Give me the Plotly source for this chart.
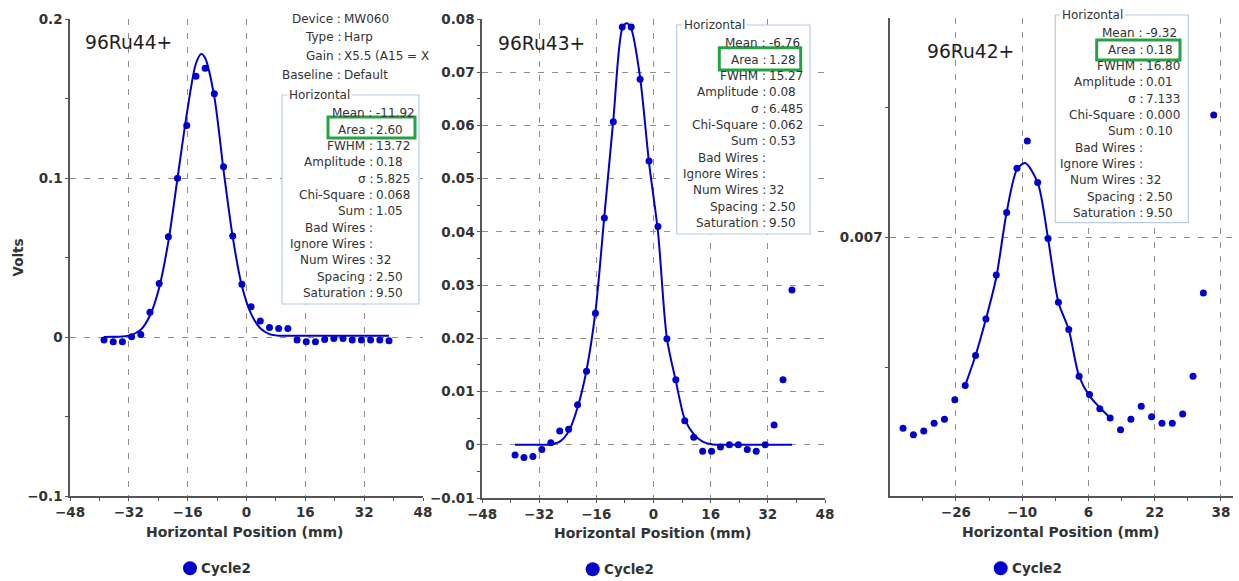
import plotly.graph_objects as go

W, H = 1239, 581

# ---------------- data ----------------
wire_pos = [-38.75, -36.25, -33.75, -31.25, -28.75, -26.25, -23.75, -21.25,
            -18.75, -16.25, -13.75, -11.25, -8.75, -6.25, -3.75, -1.25,
            1.25, 3.75, 6.25, 8.75, 11.25, 13.75, 16.25, 18.75,
            21.25, 23.75, 26.25, 28.75, 31.25, 33.75, 36.25, 38.75]

p1_y = [-0.0019, -0.0030, -0.0030, 0.0002, 0.0015, 0.0155, 0.0337, 0.0630,
        0.0998, 0.1330, 0.1640, 0.1690, 0.1530, 0.1070, 0.0635, 0.0331,
        0.0190, 0.0100, 0.0059, 0.0053, 0.0053, -0.0019, -0.0030, -0.0030,
        -0.0015, -0.0010, -0.0010, -0.0019, -0.0019, -0.0019, -0.0019, -0.0023]

p2_y = [-0.0019, -0.0024, -0.0022, -0.0009, 0.0004, 0.0026, 0.0029, 0.0075,
        0.0138, 0.0247, 0.0426, 0.0607, 0.0785, 0.0785, 0.0687, 0.0533,
        0.0410, 0.0199, 0.0122, 0.0045, 0.0014, -0.0012, -0.0012, -0.0004,
        0.0000, 0.0000, -0.0009, -0.0012, 0.0000, 0.0037, 0.0122, 0.0291]

p3_x = wire_pos[:31]
p3_y = [0.00553, 0.00548, 0.00551, 0.00557, 0.00560, 0.00575, 0.00586, 0.00609,
        0.00637, 0.00671, 0.00719, 0.00753, 0.00774, 0.00742, 0.00699, 0.00650,
        0.00629, 0.00593, 0.00579, 0.00568, 0.00561, 0.00552, 0.00560, 0.00570,
        0.00562, 0.00557, 0.00557, 0.00564, 0.00593, 0.00657, 0.00794]

# fitted curves
fit1_x = [-38.75, -36.25, -33.75, -31.25, -28.75, -26.25, -23.75, -21.25, -18.75,
          -16.25, -13.75, -12.3, -11.25, -8.75, -6.25, -3.75, -1.25, 1.25, 3.75,
          6.25, 8.75, 11.25, 13.75, 16.25, 18.75, 21.25, 23.75, 26.25, 28.75,
          31.25, 33.75, 36.25, 38.75]
fit1_y = [0.0, 0.0001, 0.0003, 0.0013, 0.0045, 0.0135, 0.0310, 0.0600, 0.1000,
          0.1400, 0.1720, 0.1780, 0.1755, 0.1510, 0.1050, 0.0630, 0.0320, 0.0145,
          0.0055, 0.0018, 0.0008, 0.0008, 0.0008, 0.0008, 0.0008, 0.0008, 0.0008,
          0.0008, 0.0008, 0.0008, 0.0008, 0.0008, 0.0008]

fit2_x = [-38.75, -36.25, -33.75, -31.25, -28.75, -26.25, -23.75, -21.25, -18.75,
          -16.25, -13.75, -11.25, -8.75, -7.5, -6.25, -3.75, -1.25, 1.25, 3.75,
          6.25, 8.75, 11.25, 13.75, 16.25, 18.75, 21.25, 23.75, 26.25, 28.75,
          31.25, 33.75, 36.25, 38.75]
fit2_y = [0.0, 0.0, 0.0, 0.0, 0.0001, 0.0006, 0.0025, 0.0070, 0.0140,
          0.0250, 0.0430, 0.0610, 0.0782, 0.0792, 0.0782, 0.0690, 0.0530, 0.0400,
          0.0200, 0.0120, 0.0048, 0.0020, 0.0006, 0.0001, 0.0, 0.0, 0.0, 0.0,
          0.0, 0.0, 0.0, 0.0, 0.0]

fit3_x = [-23.75, -21.25, -18.75, -16.25, -13.75, -11.25, -9.3, -6.25, -3.75,
          -1.25, 1.25, 3.75, 6.25, 8.75, 11.25]
fit3_y = [0.00586, 0.00609, 0.00637, 0.00669, 0.00719, 0.00752, 0.00757, 0.00742,
          0.00699, 0.00650, 0.00629, 0.00593, 0.00578, 0.00569, 0.00561]

panel_titles = ["96Ru44+", "96Ru43+", "96Ru42+"]
series_name = "Cycle2"

header_labels = ["Device", "Type", "Gain", "Baseline"]
header_values = ["MW060", "Harp", "X5.5 (A15 = X", "Default"]

stat_labels = ["Mean", "Area", "FWHM", "Amplitude", "σ", "Chi-Square", "Sum",
               "Bad Wires", "Ignore Wires", "Num Wires", "Spacing", "Saturation"]
p1_stats = ["-11.92", "2.60", "13.72", "0.18", "5.825", "0.068", "1.05", "", "", "32", "2.50", "9.50"]
p2_stats = ["-6.76", "1.28", "15.27", "0.08", "6.485", "0.062", "0.53", "", "", "32", "2.50", "9.50"]
p3_stats = ["-9.32", "0.18", "16.80", "0.01", "7.133", "0.000", "0.10", "", "", "32", "2.50", "9.50"]

# ---------------- styling ----------------
BLUE = "#0000cc"
AXC = "#555555"
TXT = "#333333"
GRID = "#8f8f8f"
FONT = "DejaVu Sans"


def px(x):
    return x / W


def py(y):
    return 1 - y / H


fig = go.Figure()

datasets = [
    (wire_pos, p1_y, fit1_x, fit1_y, "x", "y"),
    (wire_pos, p2_y, fit2_x, fit2_y, "x2", "y2"),
    (p3_x, p3_y, fit3_x, fit3_y, "x3", "y3"),
]
for dx, dy, fx, fy, xa, ya in datasets:
    fig.add_trace(go.Scatter(x=fx, y=fy, mode="lines", xaxis=xa, yaxis=ya,
                             line=dict(color=BLUE, width=2, shape="spline", smoothing=0.8),
                             showlegend=False, hoverinfo="skip"))
    fig.add_trace(go.Scatter(x=dx, y=dy, mode="markers", xaxis=xa, yaxis=ya,
                             name=series_name,
                             marker=dict(color=BLUE, size=7, symbol="circle"),
                             showlegend=False))

tickfont = dict(family=FONT, size=13.5, color=TXT, weight="bold")


def xaxis(dom, rng, tick0, anchor):
    return dict(domain=[px(dom[0]), px(dom[1])], range=rng, anchor=anchor, automargin=False,
                tick0=tick0, dtick=16, showgrid=True, gridcolor=GRID, gridwidth=1,
                griddash="6px,8px", zeroline=False, showline=True, linecolor=AXC,
                linewidth=1.5, ticks="outside", ticklen=3, tickcolor=AXC, tickwidth=1.2,
                tickfont=tickfont, fixedrange=True,
                minor=dict(tick0=tick0, dtick=8, ticks="outside", ticklen=3,
                           tickcolor=AXC, tickwidth=1.2, showgrid=False))


def yaxis(dom, rng, tick0, dtick, mdtick, anchor):
    return dict(domain=[py(dom[1]), py(dom[0])], range=rng, anchor=anchor, automargin=False,
                tick0=tick0, dtick=dtick, showgrid=True, gridcolor=GRID, gridwidth=1,
                griddash="6px,8px", zeroline=False, showline=True, linecolor=AXC,
                linewidth=1.5, ticks="outside", ticklen=3, tickcolor=AXC, tickwidth=1.2,
                tickfont=tickfont, fixedrange=True,
                minor=dict(tick0=tick0, dtick=mdtick, ticks="outside", ticklen=3,
                           tickcolor=AXC, tickwidth=1.2, showgrid=False))


def inside_ticks(base, overlay):
    d = dict(base)
    d.update(overlaying=overlay, ticks="inside", showticklabels=False, showgrid=False,
             showline=False)
    d["minor"] = dict(base["minor"], ticks="inside")
    return d


xa1 = xaxis((70, 423), [-48, 48], 0, "y")
ya1 = yaxis((19, 496), [-0.1, 0.2], 0, 0.1, 0.05, "x")
xa2 = xaxis((482, 825), [-48, 48], 0, "y2")
ya2 = yaxis((19, 498), [-0.01, 0.08], 0, 0.01, 0.005, "x2")
xa3 = xaxis((890, 1233), [-41.9, 40.9], -26, "y3")
ya3 = yaxis((18, 496), [0.00501, 0.008685], 0.007, 0.002, 0.001, "x3")

fig.update_layout(
    template="none",
    width=W, height=H, margin=dict(l=0, r=0, t=0, b=0, pad=0, autoexpand=False),
    paper_bgcolor="white", plot_bgcolor="white", showlegend=False,
    xaxis=xa1, yaxis=ya1, xaxis2=xa2, yaxis2=ya2, xaxis3=xa3, yaxis3=ya3,
    xaxis4=inside_ticks(xa1, "x"), yaxis4=inside_ticks(ya1, "y"),
    xaxis5=inside_ticks(xa2, "x2"), yaxis5=inside_ticks(ya2, "y2"),
    xaxis6=inside_ticks(xa3, "x3"), yaxis6=inside_ticks(ya3, "y3"),
)

shapes = []
annotations = []


def ann(x, y, text, xanchor="left", size=12, bold=False, color=TXT, bg=None, angle=0):
    a = dict(x=px(x), y=py(y), xref="paper", yref="paper", text=text, showarrow=False,
             xanchor=xanchor, yanchor="middle", textangle=angle,
             font=dict(family=FONT, size=size, color=color,
                       weight="bold" if bold else "normal"))
    if bg:
        a["bgcolor"] = bg
    annotations.append(a)


def rect(x0, y0, x1, y1, line, width, fill=None):
    shapes.append(dict(type="rect", xref="paper", yref="paper",
                       x0=px(x0), x1=px(x1), y0=py(y1), y1=py(y0),
                       line=dict(color=line, width=width),
                       fillcolor=fill if fill else "rgba(0,0,0,0)", layer="above"))


# white backing for header block of panel 1
shapes.append(dict(type="rect", xref="paper", yref="paper", x0=px(272), x1=px(421),
                   y0=py(95), y1=py(2), line=dict(width=0), fillcolor="white", layer="above"))
for i, (lab, val) in enumerate(zip(header_labels, header_values)):
    yy = 18.5 + i * 18.7
    ann(339 + 4, yy, lab + " :", "right")
    ann(339 + 3, yy, val, "left")

stat_boxes = [
    dict(stats=p1_stats, colon=370.7, y0=113.3, box=(282, 95, 419, 304), green=(328, 117, 415, 138)),
    dict(stats=p2_stats, colon=764.0, y0=43.3, box=(676.7, 25, 810, 234), green=(719.3, 47.7, 800.7, 70)),
    dict(stats=p3_stats, colon=1141.3, y0=33.3, box=(1055.3, 15, 1188.3, 222.7), green=(1096.7, 40, 1180, 60)),
]
for sb in stat_boxes:
    bx0, by0, bx1, by1 = sb["box"]
    rect(bx0, by0, bx1, by1, "#b7cce3", 1.2, fill="white")
    ann(bx0 + 5, by0, "Horizontal", "left", bg="white")
    for i, (lab, val) in enumerate(zip(stat_labels, sb["stats"])):
        yy = sb["y0"] + i * 16.33
        ann(sb["colon"] + 4, yy, lab + " :", "right")
        if val:
            ann(sb["colon"] + 3, yy, val, "left")
    gx0, gy0, gx1, gy1 = sb["green"]
    rect(gx0, gy0, gx1, gy1, "#27a243", 3)

# panel titles
for (x, y), t in zip([(83, 43), (496, 44), (925, 51.5)], panel_titles):
    ann(x, y, t, "left", size=18.7, color="#1e1e1e")

# axis titles
for x, y in [(245.5, 531.7), (653, 533.3), (1060.5, 531.7)]:
    ann(x, y, "Horizontal Position (mm)", "center", size=14, bold=True)
ann(17, 257.5, "Volts", "center", size=13.5, bold=True, angle=-90)

# legends
for cx, cy in [(190, 568.3), (592.7, 569.3), (1000.7, 568.3)]:
    shapes.append(dict(type="circle", xref="paper", yref="paper",
                       x0=px(cx - 7), x1=px(cx + 7), y0=py(cy + 7), y1=py(cy - 7),
                       line=dict(width=0), fillcolor=BLUE, layer="above"))
    ann(cx + 9.5, cy, series_name, "left", size=13.5, bold=True)

fig.update_layout(shapes=shapes, annotations=annotations)

fig.write_html("out.html")
